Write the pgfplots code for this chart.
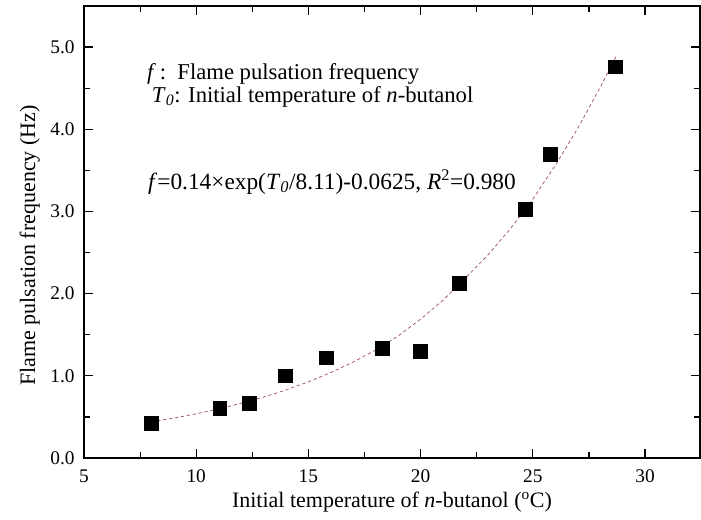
\documentclass[border=0pt]{standalone}
\usepackage{fontspec}
\setmainfont{Liberation Serif}
\usepackage{pgfplots}
\pgfplotsset{compat=1.18}
\definecolor{fitline}{RGB}{165,95,105}

\begin{document}
\begin{tikzpicture}
\begin{axis}[
  name=ax,
  scale only axis,
  width=462pt, height=339pt,
  xmin=5, xmax=32.45,
  ymin=0, ymax=5.5,
  xtick={5,10,15,20,25,30},
  ytick={0,1,2,3,4,5},
  minor x tick num=1,
  minor y tick num=1,
  major tick length=7pt,
  minor tick length=4.5pt,
  tick style={black, line width=0.9pt},
  axis line style={black, line width=1pt},
  /pgf/number format/assume math mode=true,
  yticklabel={\pgfmathprintnumber[fixed,fixed zerofill,precision=1]{\tick}},
  ticklabel style={font=\fontsize{14.5}{16}\selectfont},
  xticklabel style={yshift=-5.5pt},
  yticklabel style={xshift=-3.5pt},
  label style={font=\fontsize{16.5}{19}\selectfont},
  xlabel={Initial temperature of \textit{n}-butanol (\textsuperscript{o}C)},
  ylabel={Flame pulsation frequency (Hz)},
  xlabel style={yshift=0pt},
  ylabel style={at={(ticklabel cs:0.47,1pt)}},
]
% fitted curve
\addplot[color=fitline, line width=0.6pt, dash pattern=on 2.5pt off 2pt] coordinates {
  (8,0.440)(9,0.486)(10,0.538)(11,0.597)(12,0.665)(13,0.741)(14,0.828)
  (15,0.927)(16,1.040)(17,1.168)(18,1.314)(19,1.485)(20,1.690)
  (21,1.920)(22,2.190)(23,2.470)(24,2.790)(25,3.150)(26,3.560)
  (27,4.010)(28,4.510)(28.7,4.880)
};
% measured data
\addplot[only marks, mark=square*, mark size=5.2pt, color=black] coordinates {
  (8.0,0.42)(11.05,0.60)(12.35,0.67)(13.96,1.00)(15.78,1.22)(18.28,1.34)
  (19.97,1.30)(21.73,2.13)(24.67,3.03)(25.78,3.70)(28.69,4.76)
};
\node[anchor=base west, inner sep=0pt, font=\fontsize{17}{20}\selectfont]
  at (axis cs:7.80,4.606) {\textit{f}\,:\ \ Flame pulsation frequency};
\node[anchor=base west, inner sep=0pt, font=\fontsize{17}{20}\selectfont]
  at (axis cs:8.01,4.326) {\textit{T}\textsubscript{\textit{0}}: Initial temperature of \textit{n}-butanol};
\node[anchor=base west, inner sep=0pt, font=\fontsize{17.5}{20}\selectfont]
  at (axis cs:7.85,3.27) {\textit{f}=0.14×exp(\textit{T}\textsubscript{\textit{0}}/8.11)-0.0625, \textit{R}\textsuperscript{2}=0.980};
\end{axis}
\pgfresetboundingbox
\path (ax.south west) ++(-63pt,-45.75pt) coordinate (bbsw);
\path (ax.north east) ++(0.75pt,4.5pt) coordinate (bbne);
\path (bbsw) rectangle (bbne);
\end{tikzpicture}
\end{document}
